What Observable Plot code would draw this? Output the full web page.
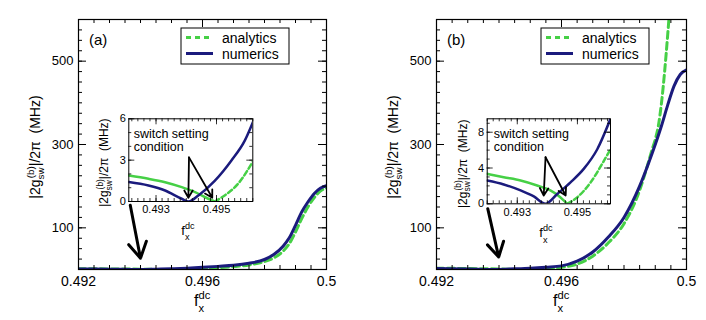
<!DOCTYPE html>
<html><head><meta charset="utf-8">
<script src="https://cdn.jsdelivr.net/npm/d3@7"></script>
<script src="https://cdn.jsdelivr.net/npm/@observablehq/plot@0.6"></script>
<style>
body{margin:0;background:#fff;}
#wrap{position:relative;width:706px;height:320px;overflow:hidden;background:#fff;}
#wrap svg{position:absolute;overflow:visible;}
</style></head><body><div id="wrap"></div>
<script>
// ================= DATA =================
// main panel (a)
const aNumX = [0.492, 0.493, 0.494, 0.4945, 0.495, 0.4955, 0.496, 0.4965, 0.497, 0.4975, 0.498, 0.4983, 0.4986, 0.4988, 0.499, 0.4992, 0.4994, 0.4996, 0.4998, 0.5];
const aNumY = [1.4, 0.8, 0.05, 0.8, 1.8, 3.2, 5.2, 7.5, 10, 15, 24, 36, 56, 76, 106, 138, 162, 182, 195, 201];
const aAnaX = [0.492, 0.493, 0.494, 0.4945, 0.495, 0.4955, 0.496, 0.4965, 0.497, 0.4975, 0.498, 0.4983, 0.4986, 0.4988, 0.499, 0.4992, 0.4994, 0.4996, 0.4998, 0.5];
const aAnaY = [1.9, 1.4, 0.9, 0.3, 0.1, 0.9, 2.6, 4.5, 7, 11, 19, 28, 44, 62, 90, 122, 150, 172, 188, 196];
// main panel (b)
const bNumX = [0.492, 0.493, 0.4939, 0.4945, 0.495, 0.4955, 0.496, 0.4965, 0.497, 0.4975, 0.498, 0.4985, 0.4988, 0.499, 0.4992, 0.4994, 0.4996, 0.4998, 0.5];
const bNumY = [2.4, 1.3, 0.05, 1.6, 3.2, 5.6, 8.7, 20, 42, 78, 125, 200, 258, 300, 345, 395, 440, 468, 479];
const bAnaX = [0.492, 0.493, 0.494, 0.4946, 0.495, 0.4955, 0.496, 0.4965, 0.497, 0.4975, 0.498, 0.4985, 0.4988, 0.4989, 0.499, 0.4991, 0.4992, 0.4993, 0.4994, 0.4995, 0.4996];
const bAnaY = [3.3, 2.3, 1.2, 0.05, 0.8, 2.9, 5.6, 13, 32, 64, 110, 190, 262, 288, 312, 345, 400, 475, 565, 665, 770];
// inset (a)
const iaNumX = [0.4921, 0.49275, 0.4933, 0.49385, 0.49408, 0.4944, 0.49494, 0.4955, 0.49593, 0.49623];
const iaNumY = [1.41, 1.16, 0.8, 0.2, 0.0, 0.44, 1.5, 3.0, 4.4, 5.9];
const iaAnaX = [0.4921, 0.49275, 0.4933, 0.49385, 0.49429, 0.49473, 0.49494, 0.49527, 0.49571, 0.49623];
const iaAnaY = [1.88, 1.65, 1.4, 1.04, 0.68, 0.2, 0.0, 0.44, 1.28, 3.0];
// inset (b)
const ibNumX = [0.492, 0.49255, 0.49311, 0.49355, 0.49394, 0.49433, 0.49477, 0.49521, 0.49566, 0.4961];
const ibNumY = [2.6, 2.16, 1.49, 0.82, 0.0, 1.1, 2.4, 3.9, 6.1, 9.5];
const ibAnaX = [0.492, 0.49255, 0.49311, 0.49366, 0.4941, 0.49443, 0.49466, 0.495, 0.49544, 0.49588, 0.4961];
const ibAnaY = [3.35, 2.97, 2.6, 2.04, 1.49, 0.74, 0.0, 0.74, 2.4, 4.8, 6.1];

// axes / ticks
const mainXDomain = [0.492, 0.5];
const mainYDomain = [0, 600];
const mainXTicks = [0.492, 0.496, 0.5];
const mainXTickLabels = ["0.492", "0.496", "0.5"];
const mainYTicks = [100, 300, 500];
const mainYTickLabels = ["100", "300", "500"];
const insetAXDomain = [0.4921, 0.4962];
const insetBXDomain = [0.492, 0.4961];
const insetAYDomain = [0, 6];
const insetBYDomain = [0, 9.5];
const insetXTicks = [0.493, 0.495];
const insetXTickLabels = ["0.493", "0.495"];
const insetAYTicks = [0, 3, 6];
const insetAYTickLabels = ["0", "3", "6"];
const insetBYTicks = [0, 4, 8];
const insetBYTickLabels = ["0", "4", "8"];

// annotations (data coordinates)
const aMainArrow = [{x1: 0.49367, y1: 154, x2: 0.4940, y2: 27}];
const bMainArrow = [{x1: 0.49364, y1: 146, x2: 0.49399, y2: 30}];
const aInsetArrows = [{x1: 0.49409, y1: 3.2, x2: 0.49407, y2: 0.27}, {x1: 0.49409, y1: 3.2, x2: 0.49486, y2: 0.27}];
const bInsetArrows = [{x1: 0.49394, y1: 5.2, x2: 0.49388, y2: 0.93}, {x1: 0.49394, y1: 5.2, x2: 0.49461, y2: 0.93}];
const annotText = "switch setting\ncondition";
const aInsetTextPos = [{x: 0.49226, y: 5.3}];
const bInsetTextPos = [{x: 0.49222, y: 8.45}];
const seriesNames = ["analytics", "numerics"];

// ================= STYLE =================
const FONT = '"Liberation Sans", Arial, Helvetica, sans-serif';
const NAVY = "#1b1b7d";
const GREEN = "#46d046";

const zip = (xs, ys) => xs.map((x, i) => ({x, y: ys[i]}));
const fmt = (ticks, labels) => d => labels[ticks.indexOf(d)] ?? String(d);
const wrap = document.getElementById("wrap");

function place(svg, left, top) {
  svg.style.left = left + "px";
  svg.style.top = top + "px";
  wrap.appendChild(svg);
}

function yLabel(svg, cx, cy, fs) {
  const t = d3.select(svg).append("text")
    .attr("transform", `translate(${cx},${cy}) rotate(-90)`)
    .attr("text-anchor", "middle").attr("font-size", fs)
    .attr("font-family", FONT).attr("fill", "#000");
  t.append("tspan").text("|2g");
  t.append("tspan").attr("font-size", fs * 0.7).attr("dy", fs * 0.3).text("sw");
  t.append("tspan").attr("font-size", fs * 0.7).attr("dx", -fs * 0.7 * 1.1).attr("dy", -fs * 0.75).text("(b)");
  t.append("tspan").attr("dy", fs * 0.45).text("|/2π\u00a0\u00a0(MHz)");
}

function xLabel(svg, x, y, fs) {
  const t = d3.select(svg).append("text")
    .attr("x", x).attr("y", y).attr("font-size", fs).attr("text-anchor", "start")
    .attr("font-family", FONT).attr("fill", "#000");
  t.append("tspan").text("f");
  t.append("tspan").attr("font-size", fs * 0.7).attr("dy", fs * 0.4).text("x");
  t.append("tspan").attr("font-size", fs * 0.7).attr("dx", -fs * 0.7 * 0.5).attr("dy", -fs * 0.85).text("dc");
}

function mainPanel(o) {
  const W = 353, H = 320;
  const fw = W - o.mL - o.mR, fh = H - o.mT - o.mB;
  const xMinor = d3.range(0, 17).map(i => 0.492 + i * 0.0005);
  const yMinor = d3.range(0, 601, 25);
  const svg = Plot.plot({
    width: W, height: H,
    marginLeft: o.mL, marginRight: o.mR, marginTop: o.mT, marginBottom: o.mB,
    style: {fontFamily: FONT, background: "transparent", color: "#000", overflow: "visible"},
    x: {domain: mainXDomain, axis: null},
    y: {domain: mainYDomain, axis: null},
    marks: [
      Plot.line(o.ana, {x: "x", y: "y", stroke: GREEN, strokeWidth: 3, strokeDasharray: "7,4", curve: "monotone-x", clip: true}),
      Plot.line(o.num, {x: "x", y: "y", stroke: NAVY, strokeWidth: 3, curve: "monotone-x", clip: true}),
      Plot.tickX(xMinor, {x: d => d, insetTop: fh - 4, strokeWidth: 1}),
      Plot.tickX(xMinor, {x: d => d, insetBottom: fh - 4, strokeWidth: 1}),
      Plot.tickX(mainXTicks, {x: d => d, insetTop: fh - 8, strokeWidth: 1}),
      Plot.tickX(mainXTicks, {x: d => d, insetBottom: fh - 8, strokeWidth: 1}),
      Plot.tickY(yMinor, {y: d => d, insetRight: fw - 4, strokeWidth: 1}),
      Plot.tickY(yMinor, {y: d => d, insetLeft: fw - 4, strokeWidth: 1}),
      Plot.tickY(mainYTicks, {y: d => d, insetRight: fw - 8, strokeWidth: 1}),
      Plot.tickY(mainYTicks, {y: d => d, insetLeft: fw - 8, strokeWidth: 1}),
      Plot.axisX({ticks: mainXTicks, tickSize: 0, tickPadding: 7, fontSize: 14, tickFormat: fmt(mainXTicks, mainXTickLabels), label: null}),
      Plot.axisY({ticks: mainYTicks, tickSize: 0, tickPadding: 5, fontSize: 13, tickFormat: fmt(mainYTicks, mainYTickLabels), label: null}),
      Plot.arrow(o.arrow, {x1: "x1", y1: "y1", x2: "x2", y2: "y2", stroke: "#000", strokeWidth: 3, headLength: 10}),
      Plot.frame({stroke: "#000", strokeWidth: 1.2})
    ]
  });
  const s = d3.select(svg);
  // panel tag
  s.append("text").attr("x", o.mL + 11).attr("y", o.mT + 26).attr("font-size", 15)
    .attr("text-anchor", "start").attr("font-family", FONT).text(o.tag);
  // legend
  const lx = W - o.mR - 37 - 108, ly = o.mT + 9;
  s.append("rect").attr("x", lx).attr("y", ly).attr("width", 108).attr("height", 36)
    .attr("fill", "#fff").attr("stroke", "#000").attr("stroke-width", 1);
  const rows = [{name: seriesNames[0], color: GREEN, dash: "5,4"}, {name: seriesNames[1], color: NAVY, dash: null}];
  rows.forEach((r, i) => {
    const yy = ly + 9.5 + i * 16;
    s.append("line").attr("x1", lx + 5).attr("x2", lx + 32).attr("y1", yy).attr("y2", yy)
      .attr("stroke", r.color).attr("stroke-width", 3).attr("stroke-dasharray", r.dash);
    s.append("text").attr("x", lx + 41).attr("y", yy + 5).attr("font-size", 14)
      .attr("text-anchor", "start").attr("font-family", FONT).text(r.name);
  });
  yLabel(svg, o.mL - 38, 147, 14);
  xLabel(svg, o.mL + fw / 2 - 8, 306, 16);
  return svg;
}

function insetPanel(o) {
  const W = 187, H = 140;
  const fw = W - o.mL - o.mR, fh = H - o.mT - o.mB;
  const iMin = o.ana.reduce((m, d, i, a) => d.y < a[m].y ? i : m, 0);
  const xMinor = d3.range(0, 22).map(i => 0.492 + i * 0.0002).filter(v => v >= o.xDomain[0] - 1e-9 && v <= o.xDomain[1] + 1e-9);
  const yMinor = d3.range(0, Math.floor(o.yDomain[1]) + 1);
  const svg = Plot.plot({
    width: W, height: H,
    marginLeft: o.mL, marginRight: o.mR, marginTop: o.mT, marginBottom: o.mB,
    style: {fontFamily: FONT, background: "transparent", color: "#000", overflow: "visible"},
    x: {domain: o.xDomain, axis: null},
    y: {domain: o.yDomain, axis: null},
    marks: [
      Plot.frame({fill: "#fff"}),
      Plot.line(o.ana.slice(0, iMin + 1), {x: "x", y: "y", stroke: GREEN, strokeWidth: 2.5, curve: "monotone-x", clip: true}),
      Plot.line(o.ana.slice(iMin), {x: "x", y: "y", stroke: GREEN, strokeWidth: 2.5, strokeDasharray: "5,3", curve: "monotone-x", clip: true}),
      Plot.line(o.num, {x: "x", y: "y", stroke: NAVY, strokeWidth: 2.5, curve: "monotone-x", clip: true}),
      Plot.tickX(xMinor, {x: d => d, insetTop: fh - 3, strokeWidth: 0.8}),
      Plot.tickX(xMinor, {x: d => d, insetBottom: fh - 3, strokeWidth: 0.8}),
      Plot.tickX(insetXTicks, {x: d => d, insetTop: fh - 6, strokeWidth: 0.8}),
      Plot.tickX(insetXTicks, {x: d => d, insetBottom: fh - 6, strokeWidth: 0.8}),
      Plot.tickY(yMinor, {y: d => d, insetRight: fw - 3, strokeWidth: 0.8}),
      Plot.tickY(yMinor, {y: d => d, insetLeft: fw - 3, strokeWidth: 0.8}),
      Plot.tickY(o.yTicks, {y: d => d, insetRight: fw - 6, strokeWidth: 0.8}),
      Plot.tickY(o.yTicks, {y: d => d, insetLeft: fw - 6, strokeWidth: 0.8}),
      Plot.axisX({ticks: insetXTicks, tickSize: 0, tickPadding: 4, fontSize: 11, tickFormat: fmt(insetXTicks, insetXTickLabels), label: null}),
      Plot.axisY({ticks: o.yTicks, tickSize: 0, tickPadding: 3, fontSize: 11, tickFormat: fmt(o.yTicks, o.yTickLabels), label: null}),
      Plot.text(o.textPos, {x: "x", y: "y", text: () => annotText, textAnchor: "start", lineAnchor: "top", fontSize: 12.5, lineHeight: 1.05, fill: "#000"}),
      Plot.arrow(o.arrows, {x1: "x1", y1: "y1", x2: "x2", y2: "y2", stroke: "#000", strokeWidth: 1.8, headLength: 7}),
      Plot.frame({stroke: "#000", strokeWidth: 1})
    ]
  });
  yLabel(svg, o.mL - 20, o.mT + fh / 2 + 3, 12);
  xLabel(svg, o.mL + fw / 2 - 9, o.mT + fh + 34, 13);
  return svg;
}

place(mainPanel({mL: 78, mR: 27, mT: 19, mB: 51, tag: "(a)",
  num: zip(aNumX, aNumY), ana: zip(aAnaX, aAnaY), arrow: aMainArrow}), 0, 0);
place(mainPanel({mL: 83, mR: 20, mT: 19, mB: 51, tag: "(b)",
  num: zip(bNumX, bNumY), ana: zip(bAnaX, bAnaY), arrow: bMainArrow}), 353, 0);
place(insetPanel({mL: 53.3, mR: 9.7, mT: 10.3, mB: 47, xDomain: insetAXDomain, yDomain: insetAYDomain,
  yTicks: insetAYTicks, yTickLabels: insetAYTickLabels, num: zip(iaNumX, iaNumY), ana: zip(iaAnaX, iaAnaY),
  textPos: aInsetTextPos, arrows: aInsetArrows}), 75, 108);
place(insetPanel({mL: 53.7, mR: 10, mT: 10.3, mB: 44.7, xDomain: insetBXDomain, yDomain: insetBYDomain,
  yTicks: insetBYTicks, yTickLabels: insetBYTickLabels, num: zip(ibNumX, ibNumY), ana: zip(ibAnaX, ibAnaY),
  textPos: bInsetTextPos, arrows: bInsetArrows}), 433, 108);
</script></body></html>
